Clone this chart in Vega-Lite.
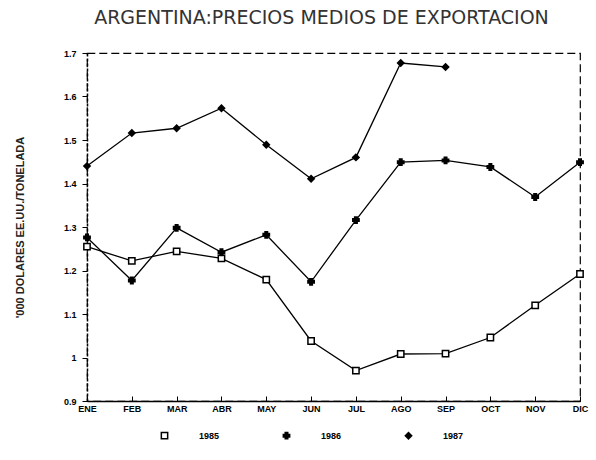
{
  "$schema": "https://vega.github.io/schema/vega-lite/v6.json",
  "width": 493,
  "height": 348,
  "autosize": "none",
  "padding": {"left": 87, "top": 53, "right": 16, "bottom": 59},
  "background": "white",
  "config": {
    "font": "Liberation Sans",
    "view": {"stroke": "black", "strokeDash": [8, 4], "strokeWidth": 1.2},
    "legend": {
      "title": null,
      "orient": "none",
      "direction": "horizontal",
      "legendX": 73,
      "legendY": 378,
      "columnPadding": 60,
      "labelFont": "Liberation Sans",
      "labelFontSize": 9,
      "labelFontWeight": "bold",
      "labelColor": "black",
      "labelOffset": 30,
      "symbolStrokeWidth": 1.5,
      "symbolSize": 40,
      "symbolOpacity": 1
    }
  },
  "title": {
    "text": "ARGENTINA:PRECIOS MEDIOS DE EXPORTACION",
    "font": "DejaVu Sans",
    "fontSize": 19,
    "fontWeight": "normal",
    "color": "#333",
    "anchor": "middle",
    "offset": 21,
    "dx": -12
  },
  "data": {
    "values": [
      {"mes": "ENE", "serie": "1985", "valor": 1.255},
      {"mes": "FEB", "serie": "1985", "valor": 1.222},
      {"mes": "MAR", "serie": "1985", "valor": 1.244},
      {"mes": "ABR", "serie": "1985", "valor": 1.228},
      {"mes": "MAY", "serie": "1985", "valor": 1.179},
      {"mes": "JUN", "serie": "1985", "valor": 1.038},
      {"mes": "JUL", "serie": "1985", "valor": 0.97},
      {"mes": "AGO", "serie": "1985", "valor": 1.008},
      {"mes": "SEP", "serie": "1985", "valor": 1.009},
      {"mes": "OCT", "serie": "1985", "valor": 1.046},
      {"mes": "NOV", "serie": "1985", "valor": 1.12},
      {"mes": "DIC", "serie": "1985", "valor": 1.192},
      {"mes": "ENE", "serie": "1986", "valor": 1.276},
      {"mes": "FEB", "serie": "1986", "valor": 1.177},
      {"mes": "MAR", "serie": "1986", "valor": 1.298},
      {"mes": "ABR", "serie": "1986", "valor": 1.242},
      {"mes": "MAY", "serie": "1986", "valor": 1.282},
      {"mes": "JUN", "serie": "1986", "valor": 1.174},
      {"mes": "JUL", "serie": "1986", "valor": 1.316},
      {"mes": "AGO", "serie": "1986", "valor": 1.449},
      {"mes": "SEP", "serie": "1986", "valor": 1.453},
      {"mes": "OCT", "serie": "1986", "valor": 1.438},
      {"mes": "NOV", "serie": "1986", "valor": 1.369},
      {"mes": "DIC", "serie": "1986", "valor": 1.449},
      {"mes": "ENE", "serie": "1987", "valor": 1.44},
      {"mes": "FEB", "serie": "1987", "valor": 1.516},
      {"mes": "MAR", "serie": "1987", "valor": 1.527},
      {"mes": "ABR", "serie": "1987", "valor": 1.573},
      {"mes": "MAY", "serie": "1987", "valor": 1.489},
      {"mes": "JUN", "serie": "1987", "valor": 1.411},
      {"mes": "JUL", "serie": "1987", "valor": 1.46},
      {"mes": "AGO", "serie": "1987", "valor": 1.677},
      {"mes": "SEP", "serie": "1987", "valor": 1.668}
    ]
  },
  "encoding": {
    "x": {
      "field": "mes",
      "type": "ordinal",
      "sort": ["ENE","FEB","MAR","ABR","MAY","JUN","JUL","AGO","SEP","OCT","NOV","DIC"],
      "scale": {"type": "point", "padding": 0},
      "axis": {
        "title": null,
        "labelAngle": 0,
        "labelFont": "Liberation Sans",
        "labelFontSize": 9,
        "labelFontWeight": "bold",
        "labelColor": "black",
        "labelPadding": 8,
        "tickSize": -5,
        "tickColor": "black",
        "domainColor": "black",
        "domainWidth": 1.5,
        "grid": false
      }
    },
    "y": {
      "field": "valor",
      "type": "quantitative",
      "scale": {"domain": [0.9, 1.7], "nice": false, "zero": false},
      "axis": {
        "title": "'000 DOLARES EE.UU./TONELADA",
        "titleFont": "Liberation Sans",
        "titleFontSize": 11,
        "titleFontWeight": "bold",
        "titleColor": "#222",
        "titlePadding": 38,
        "values": [0.9, 1, 1.1, 1.2, 1.3, 1.4, 1.5, 1.6, 1.7],
        "format": ".1~f",
        "labelFont": "Liberation Sans",
        "labelFontSize": 9,
        "labelFontWeight": "bold",
        "labelColor": "black",
        "labelPadding": 6,
        "tickSize": 5,
        "tickColor": "black",
        "domainColor": "black",
        "domainDash": [3, 2],
        "domainWidth": 1.5,
        "grid": false
      }
    }
  },
  "layer": [
    {
      "mark": {"type": "line", "color": "black", "strokeWidth": 1.3},
      "encoding": {"detail": {"field": "serie"}}
    },
    {
      "mark": {"type": "point", "filled": false, "strokeWidth": 1.5, "opacity": 1},
      "encoding": {
        "shape": {
          "field": "serie",
          "type": "nominal",
          "scale": {"domain": ["1985", "1986", "1987"], "range": ["square", "cross", "diamond"]}
        },
        "stroke": {
          "field": "serie",
          "type": "nominal",
          "scale": {"domain": ["1985", "1986", "1987"], "range": ["black", "black", "black"]}
        },
        "fill": {
          "field": "serie",
          "type": "nominal",
          "scale": {"domain": ["1985", "1986", "1987"], "range": ["white", "black", "black"]}
        },
        "size": {"value": 40}
      }
    }
  ]
}
